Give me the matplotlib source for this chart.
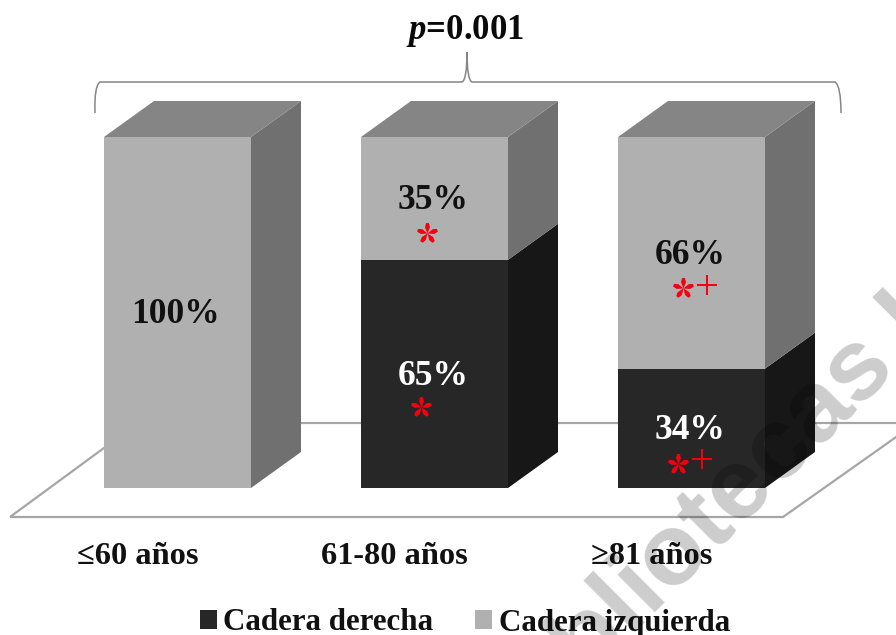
import numpy as np
import matplotlib
matplotlib.use("Agg")
import matplotlib.pyplot as plt
from matplotlib.patches import Patch, PathPatch
from matplotlib.path import Path
from matplotlib.transforms import Affine2D

# Hip fracture side by age group (percent of each group)
age_groups = ["≤60 años", "61-80 años", "≥81 años"]
series_names = ["Cadera derecha", "Cadera izquierda"]
right_hip = [0, 65, 34]
left_hip = [100, 35, 66]
p_value = "0.001"

FRONT = {"right": "#272727", "left": "#b0b0b0"}
SIDE = {"right": "#171717", "left": "#707070"}
TOP = "#858585"
RED = "#f5000f"
FLOOR = "#a6a6a6"
BRACE = "#858585"

W, H = 896, 635
plt.rcParams["font.family"] = ["Liberation Serif", "DejaVu Sans"]
plt.rcParams["mathtext.fontset"] = "custom"
plt.rcParams["mathtext.bfit"] = "Liberation Serif:italic:bold"
plt.rcParams["mathtext.bf"] = "Liberation Serif:bold"

fig = plt.figure(figsize=(W / 100, H / 100), dpi=100, facecolor="white")

# The axes span the width of the figure; one x unit is the spacing between bars,
# and y runs in percent so the stacks can be drawn directly from their values.
AX_BOTTOM_PX = 530
ax = fig.add_axes([0, (H - AX_BOTTOM_PX) / H, 1, AX_BOTTOM_PX / H])
UNIT_X, UNIT_Y = 257.0, 3.51
ax.set_xlim(-177.5 / UNIT_X, (W - 177.5) / UNIT_X)
ax.set_ylim((488 - AX_BOTTOM_PX) / UNIT_Y, 488 / UNIT_Y)
for s in ax.spines.values():
    s.set_visible(False)
ax.set_yticks([])

# Screen-pixel coordinates for the decoration around the plot
pix = Affine2D().scale(1 / W, -1 / H).translate(0, 1) + fig.transFigure

BAR_W = 147 / UNIT_X
DX, DY = 50 / UNIT_X, 36 / UNIT_Y
x = np.arange(len(age_groups))

# Floor of the 3D scene
floor_path = [(10, 517), (783, 517), (916, 423), (138, 423), (10, 517)]
ax.add_patch(PathPatch(Path(floor_path), fc="white", ec=FLOOR, lw=1.6,
                       transform=pix, zorder=1, clip_on=False))


def side_face(xc, low, high, color):
    xr = xc + BAR_W / 2
    ax.fill([xr, xr + DX, xr + DX, xr], [low, low + DY, high + DY, high],
            color=color, lw=0, zorder=3)


bottoms = np.zeros(len(x))
for key, values in (("right", right_hip), ("left", left_hip)):
    values = np.asarray(values, float)
    ax.bar(x, values, BAR_W, bottom=bottoms, color=FRONT[key], lw=0, zorder=4)
    for xc, b, v in zip(x, bottoms, values):
        if v > 0:
            side_face(xc, b, b + v, SIDE[key])
            ax.text(xc - 0.006, b + v / 2 - 0.7, f"{v:.0f}%", ha="center", va="center",
                    fontsize=25.5, fontweight="bold", zorder=6,
                    color="white" if key == "right" else "#111111")
    bottoms = bottoms + values

# Top faces of the stacks
for xc, total in zip(x, bottoms):
    xl, xr = xc - BAR_W / 2, xc + BAR_W / 2
    ax.fill([xl, xr, xr + DX, xl + DX], [total, total, total + DY, total + DY],
            color=TOP, lw=0, zorder=3)

# Five-petal asterisk used as the significance mark
petal_verts, petal_codes = [], []
for a in np.deg2rad(90 + 72 * np.arange(5)):
    u = np.array([np.cos(a), np.sin(a)])
    n = np.array([-u[1], u[0]])
    petal_verts += [(0, 0), tuple(0.6 * u + 0.24 * n), tuple(u + 0.14 * n),
                    tuple(u - 0.14 * n), tuple(0.6 * u - 0.24 * n), (0, 0)]
    petal_codes += [Path.MOVETO] + [Path.LINETO] * 4 + [Path.CLOSEPOLY]
ASTERISK = Path(petal_verts, petal_codes)

# Significance marks inside the segments
ast_px = [(427, 233), (421, 407), (683, 288), (678, 464)]
plus_px = [(707, 285), (702, 459)]
ax.plot(*zip(*ast_px), ls="none", marker=ASTERISK, ms=15, mew=0, color=RED,
        transform=pix, zorder=7, clip_on=False)
ax.plot(*zip(*plus_px), ls="none", marker="+", ms=14, mew=1.4, color=RED,
        transform=pix, zorder=7, clip_on=False)

# Age group labels sit under the centre of the floor, left of each bar front
ax.set_xticks(x - 40 / UNIT_X, age_groups, fontsize=23.3, fontweight="bold", color="#111111")
ax.tick_params(axis="x", length=0, pad=9)

# Brace across all three groups
brace = [
    (Path.MOVETO, (95, 113)), (Path.CURVE3, (94, 86)), (Path.CURVE3, (100, 82)),
    (Path.LINETO, (462, 82)), (Path.CURVE3, (467, 80)), (Path.CURVE3, (467, 52)),
    (Path.CURVE3, (467, 80)), (Path.CURVE3, (472, 82)),
    (Path.LINETO, (835, 82)), (Path.CURVE3, (841, 86)), (Path.CURVE3, (841, 113)),
]
codes, verts = zip(*brace)
ax.add_patch(PathPatch(Path(verts, codes), fc="none", ec=BRACE, lw=1.1,
                       transform=pix, clip_on=False, zorder=2))
ax.text(465, 31, rf"$\mathbfit{{p}}$={p_value}", transform=pix, ha="center", va="center",
        fontsize=25, fontweight="bold", color="#0a0a0a")

# Legend
handles = [Patch(color=FRONT["right"], lw=0), Patch(color=FRONT["left"], lw=0)]
fig.legend(handles, series_names, loc="center", bbox_to_anchor=(465 / W, 1 - 623 / H),
           ncol=2, frameon=False, borderpad=0, borderaxespad=0,
           handlelength=0.53, handleheight=0.55, handletextpad=0.22, columnspacing=1.35,
           prop={"family": "Liberation Serif", "weight": "bold", "size": 22.3},
           labelcolor="#111111")

# Repository stamp running diagonally across the lower right
fig.text(515 / W, 1 - 752 / H, "Bibliotecas U", fontsize=73, family="Liberation Sans",
         fontweight="bold", rotation=45, rotation_mode="anchor", ha="left", va="baseline",
         color="black", alpha=0.2, zorder=20)

fig.savefig("out.png", dpi=100)
